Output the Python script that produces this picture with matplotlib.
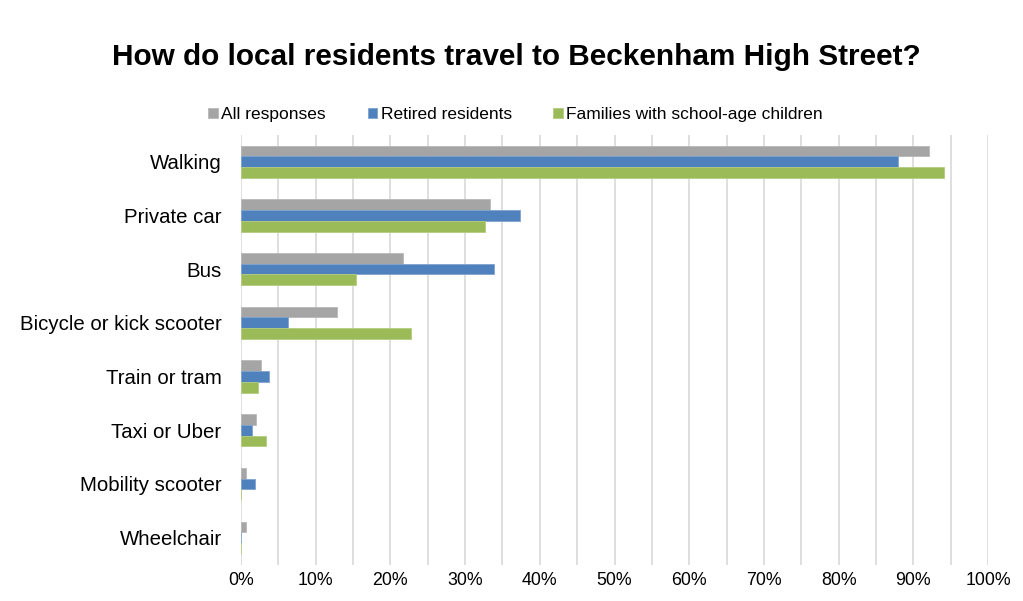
import matplotlib
matplotlib.use("Agg")
import matplotlib.pyplot as plt
import numpy as np

# --- data (share of respondents, %) ---
categories = ["Walking", "Private car", "Bus", "Bicycle or kick scooter",
              "Train or tram", "Taxi or Uber", "Mobility scooter", "Wheelchair"]
all_responses = [92.1, 33.3, 21.7, 12.9, 2.7, 2.0, 0.6, 0.6]
retired = [88.0, 37.3, 33.8, 6.3, 3.7, 1.5, 1.9, 0.0]
families = [94.1, 32.7, 15.4, 22.8, 2.3, 3.3, 0.0, 0.0]
series_names = ["All responses", "Retired residents", "Families with school-age children"]
x_ticks = list(range(0, 101, 10))

colors = ["#A5A5A5", "#4F81BD", "#9BBB59"]
edges = ["#B8B8B8", "#7FA3D0", "#B3CC80"]

plt.rcParams["font.family"] = ["Liberation Sans", "DejaVu Sans"]

fig = plt.figure(figsize=(10.23, 6.01), dpi=100)
ax = fig.add_axes([0.2356, 0.0606, 0.7302, 0.7151])

y = np.arange(len(categories))
h = 0.2
for k, (vals, name) in enumerate(zip([all_responses, retired, families], series_names)):
    ax.barh(y + (k - 1) * h, vals, height=h, color=colors[k], edgecolor=edges[k],
            linewidth=0.6, label=name, zorder=3)

ax.set_ylim(len(categories) - 0.5, -0.5)
ax.set_yticks(y)
ax.set_yticklabels(categories, fontsize=14.7)
ax.set_xlim(0, 100)
ax.set_xticks(x_ticks)
ax.set_xticklabels([f"{t}%" for t in x_ticks], fontsize=12.8)
ax.set_xticks(np.arange(5, 100, 10), minor=True)
ax.grid(True, axis="x", which="both", color="#D9D9D9", linewidth=1.2, zorder=0)
ax.tick_params(axis="both", which="both", length=0)
ax.tick_params(axis="y", pad=14)
ax.tick_params(axis="x", pad=5)
for s in ax.spines.values():
    s.set_visible(False)

fig.text(0.505, 0.905, "How do local residents travel to Beckenham High Street?",
         ha="center", va="center", fontsize=21.4, fontweight="bold")
fig.legend(loc="center", bbox_to_anchor=(0.504, 0.809), ncol=3, frameon=False,
           fontsize=12.5, handlelength=0.55, handleheight=0.55, handletextpad=0.2,
           columnspacing=2.4)

fig.savefig("out.png", dpi=100)
